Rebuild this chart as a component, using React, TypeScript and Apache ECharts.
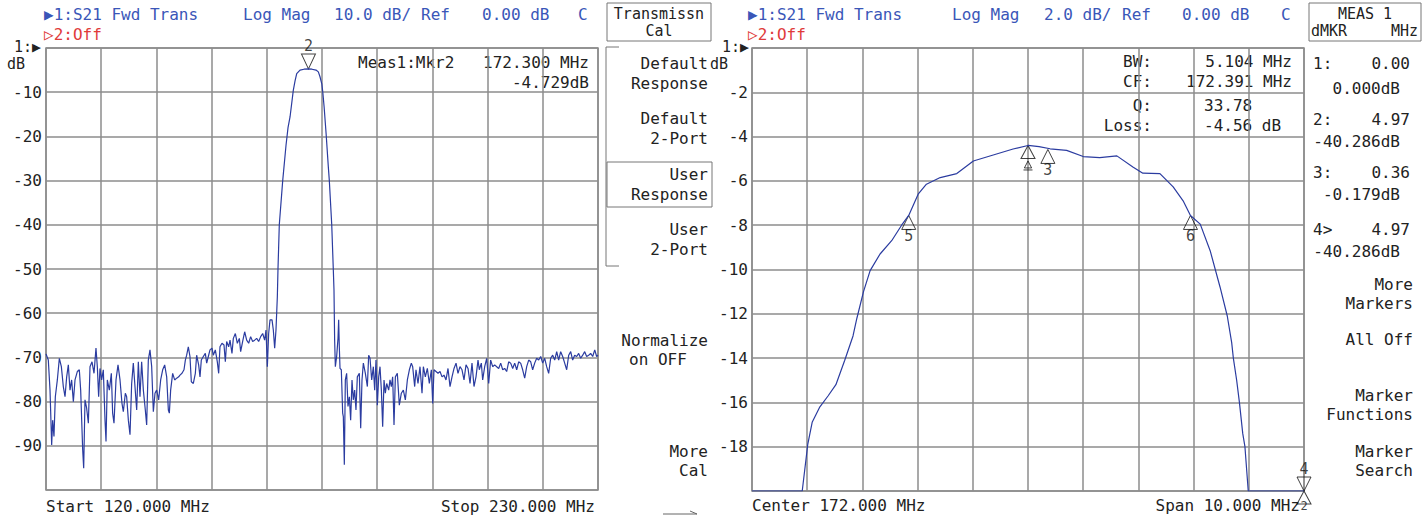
import React, { useEffect, useRef } from "react";
import * as echarts from "echarts";

// ---- data ----
const leftRangeMHz = [120, 230];
const rightRangeMHz = [167, 177];

const leftTraceMHz = [
  120.0, 120.46, 120.8, 121.13, 121.33, 121.59, 121.86, 122.26, 122.66, 123.06, 123.45, 123.79, 124.12, 124.45, 124.78,
  125.11, 125.45, 125.78, 126.24, 126.64, 126.91, 127.31, 127.51, 127.77, 128.1, 128.44, 128.77, 129.17, 129.57, 129.96,
  130.23, 130.49, 130.76, 131.09, 131.42, 131.76, 131.96, 132.22, 132.62, 133.02, 133.28, 133.55, 133.95, 134.35, 134.75,
  135.14, 135.41, 135.81, 136.07, 136.41, 136.74, 137.07, 137.4, 137.73, 138.07, 138.4, 138.73, 139.06, 139.4, 139.79,
  140.06, 140.39, 140.72, 141.06, 141.39, 141.72, 142.05, 142.45, 142.85, 143.25, 143.65, 144.05, 144.38, 144.58, 144.84,
  145.24, 145.64, 146.04, 146.44, 146.7, 147.1, 147.5, 147.77, 148.03, 148.36, 148.69, 148.96, 149.36, 149.76, 150.02,
  150.42, 150.69, 150.95, 151.35, 151.75, 152.02, 152.35, 152.68, 153.08, 153.34, 153.74, 154.14, 154.41, 154.67, 155.07,
  155.47, 155.74, 156.0, 156.4, 156.67, 157.06, 157.33, 157.73, 158.13, 158.53, 158.79, 159.19, 159.59, 159.99, 160.39,
  160.78, 161.18, 161.58, 161.98, 162.38, 162.78, 163.18, 163.57, 163.84, 164.11, 164.37, 164.64, 165.04, 165.3, 165.57,
  165.83, 166.1,
  166.23, 166.49, 167.17, 167.83, 168.23, 168.63, 169.28, 169.62, 169.96, 170.62, 171.41, 172.3, 173.01, 173.81, 174.27,
  174.6, 174.96, 175.16, 175.42, 175.82, 176.26, 176.46, 176.94, 177.25,
  177.39, 177.52, 177.66, 177.92, 178.19, 178.32, 178.45, 178.59, 178.85, 179.12, 179.25, 179.45, 179.65, 179.91, 180.18,
  180.45, 180.71, 180.98, 181.24, 181.51, 181.77, 182.04, 182.44,
  182.71, 182.97, 183.24, 183.64, 184.04, 184.3, 184.57, 184.9, 185.23, 185.5, 185.76, 186.03, 186.3, 186.56, 186.83,
  187.09, 187.36, 187.62, 187.89, 188.29, 188.55, 188.82, 189.08, 189.35, 189.62, 190.01, 190.41, 190.81, 191.21, 191.61,
  192.01, 192.41, 192.8, 193.07, 193.47, 193.73, 194.13, 194.53, 194.93, 195.2, 195.59, 195.99, 196.39, 196.79, 197.06,
  197.32, 197.72, 198.12, 198.52, 198.92, 199.31, 199.71, 200.11, 200.51, 200.91, 201.31, 201.71, 202.1, 202.5, 202.9,
  203.3, 203.7, 204.1, 204.5, 204.89, 205.29, 205.69, 206.09, 206.35, 206.75, 207.02, 207.42, 207.82, 208.22, 208.61,
  209.01, 209.41, 209.81, 210.21, 210.61, 211.01, 211.4, 211.8, 212.2, 212.6, 213.0, 213.4, 213.8, 214.19, 214.59,
  214.99, 215.39, 215.79, 216.19, 216.59, 216.98, 217.38, 217.78, 218.18, 218.58, 218.98, 219.38, 219.77, 220.17, 220.57,
  220.97, 221.37, 221.77, 222.16, 222.56, 222.96, 223.36, 223.76, 224.16, 224.56, 224.95, 225.35, 225.75, 226.15, 226.55,
  226.95, 227.35, 227.74, 228.14, 228.54, 228.94, 229.35, 229.73, 230.0,
];
const leftTraceDb = [
  -69.2, -70.6, -77.4, -89.8, -84.2, -87.9, -78.9, -75.1, -70.2, -72.1, -76.6, -78.9, -74.4, -71.7, -77.4,
  -75.1, -80.0, -75.1, -73.2, -72.8, -77.4, -90.9, -95.1, -79.6, -81.5, -84.9, -72.1, -71.0, -73.6, -67.9,
  -72.1, -78.9, -72.5, -75.1, -72.8, -84.2, -89.0, -75.1, -77.4, -73.6, -82.6, -84.9, -75.1, -71.7, -75.1,
  -80.4, -82.3, -78.1, -78.9, -84.2, -87.5, -75.9, -71.3, -76.6, -81.9, -71.0, -78.9, -71.0, -77.4, -81.9,
  -85.3, -70.6, -68.3, -72.1, -82.3, -78.1, -77.4, -79.6, -75.1, -72.8, -71.7, -74.4, -81.9, -82.6, -77.4,
  -73.6, -75.1, -74.7, -74.4, -74.0, -73.6, -72.8, -70.6, -69.5, -67.6, -69.8, -75.5, -75.9, -73.6, -69.5,
  -71.7, -74.4, -70.6, -69.8, -69.1, -71.3, -69.8, -68.3, -67.9, -69.5, -68.3, -71.0, -73.6, -67.6, -66.8,
  -67.2, -71.0, -66.4, -67.6, -66.1, -69.1, -65.7, -64.6, -66.8, -65.7, -68.7, -66.4, -64.2, -66.1, -66.8,
  -65.3, -66.4, -66.1, -65.7, -66.4, -65.3, -64.6, -66.1, -63.8, -72.1, -64.6, -61.5, -61.5, -63.8, -67.9,
  -63.8, -56.3,
  -50, -40, -30, -22, -18, -15.6, -9.6, -7.5, -5.8, -5.0, -4.8, -4.729, -4.8, -5.0, -5.4,
  -6.5, -8.1, -10, -13.3, -19.4, -26.9, -30, -40, -50,
  -54.8, -66.1, -72.1, -69.8, -65.7, -61.5, -67.6, -72.5, -72.8, -82.6, -83.4, -94.3, -75.1, -73.6, -81.1,
  -78.9, -84.2, -75.1, -79.6, -77.4, -81.9, -74.4, -73.6,
  -86.0, -75.1, -71.3, -73.6, -76.6, -69.5, -70.2, -75.1, -72.1, -77.4, -70.6, -80.8, -74.4, -72.1, -77.4,
  -85.7, -75.1, -78.1, -75.9, -77.4, -75.1, -76.6, -74.4, -85.3, -74.4, -73.6, -80.8, -78.1, -77.4, -79.6,
  -75.1, -72.8, -71.3, -72.1, -76.6, -72.8, -75.9, -72.1, -78.1, -72.1, -74.4, -72.5, -75.9, -72.8, -80.4,
  -72.8, -73.2, -73.6, -73.2, -74.4, -74.0, -75.1, -72.5, -76.6, -74.4, -72.5, -71.3, -73.6, -72.1, -72.8,
  -75.1, -71.7, -72.5, -75.9, -71.3, -76.6, -74.4, -70.6, -72.8, -71.3, -75.1, -72.1, -70.2, -75.9, -70.6,
  -72.1, -71.7, -72.1, -72.5, -71.3, -72.8, -72.5, -73.2, -71.0, -71.3, -72.5, -71.3, -72.8, -71.0, -71.3,
  -72.8, -74.7, -72.1, -70.6, -71.0, -72.8, -71.3, -70.2, -70.6, -69.8, -71.3, -70.2, -72.1, -73.6, -70.2,
  -69.5, -70.6, -68.7, -70.6, -68.7, -69.8, -71.3, -72.8, -69.5, -68.7, -70.6, -69.5, -69.8, -69.1, -70.2,
  -69.5, -68.7, -69.8, -69.5, -69.1, -69.8, -68.3, -69.8, -69.5,
];

const rightTraceMHz = [
  167.0, 167.91, 168.01, 168.09, 168.23, 168.38, 168.52, 168.68, 168.83, 168.9, 169.02, 169.14, 169.32, 169.53, 169.71,
  169.839, 170.01, 170.16, 170.41, 170.71, 171.01, 171.37, 171.73, 172.0, 172.2, 172.4, 172.7, 173.0, 173.3, 173.61,
  173.9, 174.08, 174.39, 174.63, 174.81, 174.943, 175.12, 175.3, 175.48, 175.61, 175.69, 175.72, 175.78, 175.83, 175.89,
  175.93, 175.99, 177.0,
];
const rightTraceDb = [
  -20, -20, -17.9, -16.9, -16.2, -15.7, -15.2, -14.1, -13.0, -12.2, -11.0, -10.05, -9.3, -8.7, -8.0,
  -7.56, -6.6, -6.15, -5.85, -5.67, -5.1, -4.83, -4.56, -4.4, -4.45, -4.55, -4.62, -4.9, -4.95, -4.87,
  -5.37, -5.65, -5.67, -6.27, -6.9, -7.56, -7.95, -9.15, -10.8, -12.1, -13.3, -14.0, -15.0, -16.0, -17.4,
  -18.0, -20, -20,
];

const leftMarkerMHz = [172.3];
const leftMarkerDb = [-4.729];
const rightMarkerNames = ["5", "6", "3"];
const rightMarkerMHz = [169.839, 174.943, 172.36];
const rightMarkerDb = [-7.56, -7.56, -4.58];
const refMarkerMHz = [172.0];
const refMarkerDb = [-4.4];
const edgeMarkerMHz = [177.0];
const edgeMarkerDb = [-20];

// ---- styles ----
const FONT = '"DejaVu Sans Mono", "Liberation Mono", monospace';
const BLUE_TXT = "#3a56b8";
const RED_TXT = "#e03a3a";
const TRACE = "#2b3ca0";
const GRID = "#8c8c8c";
const INK = "#222222";

const DOWN_TRI = "path://M0,0L14,0L7,14Z";
const UP_TRI = "path://M7,0L14,14L0,14Z";

function txt(x: number, y: number, text: string, align = "left", color = INK, size = 16) {
  return {
    type: "text",
    silent: true,
    style: {
      x,
      y,
      text,
      fill: color,
      font: `${size}px ${FONT}`,
      textAlign: align,
      textVerticalAlign: "middle",
    },
  };
}

function rect(x: number, y: number, w: number, h: number) {
  return {
    type: "rect",
    silent: true,
    shape: { x, y, width: w, height: h },
    style: { fill: "none", stroke: "#777", lineWidth: 1 },
  };
}

export default function App() {
  const ref = useRef<HTMLDivElement>(null);

  useEffect(() => {
    if (!ref.current) return;
    const chart = echarts.init(ref.current, undefined, { renderer: "svg" });

    const leftData = leftTraceMHz.map((f, i) => [f, leftTraceDb[i]]);
    const rightData = rightTraceMHz.map((f, i) => [f, rightTraceDb[i]]);

    const markerItem = { color: "rgba(0,0,0,0)", borderColor: "#111", borderWidth: 1 };
    const markerLabel = { color: "#111", fontFamily: FONT, fontSize: 15 };

    const gridAxisCommon = {
      axisLine: { show: false },
      axisTick: { show: false },
      axisLabel: { show: false },
      splitLine: { show: true, lineStyle: { color: GRID, width: 1.5 } },
    };

    const yLabel = {
      show: true,
      color: INK,
      fontFamily: FONT,
      fontSize: 16,
      margin: 4,
    };

    const graphic: any[] = [
      // left header
      txt(44, 14, "▶1:S21 Fwd Trans", "left", BLUE_TXT),
      txt(243, 14, "Log Mag", "left", BLUE_TXT),
      txt(334, 14, "10.0 dB/", "left", BLUE_TXT),
      txt(421, 14, "Ref", "left", BLUE_TXT),
      txt(482, 14, "0.00 dB", "left", BLUE_TXT),
      txt(578, 14, "C", "left", BLUE_TXT),
      txt(44, 34, "▷2:Off", "left", RED_TXT),
      // right header
      txt(748, 14, "▶1:S21 Fwd Trans", "left", BLUE_TXT),
      txt(952, 14, "Log Mag", "left", BLUE_TXT),
      txt(1044, 14, "2.0 dB/", "left", BLUE_TXT),
      txt(1122, 14, "Ref", "left", BLUE_TXT),
      txt(1182, 14, "0.00 dB", "left", BLUE_TXT),
      txt(1281, 14, "C", "left", BLUE_TXT),
      txt(748, 34, "▷2:Off", "left", RED_TXT),
      // axis top markers
      txt(14, 47, "1:▶", "left", INK, 15),
      txt(7, 64, "dB", "left", INK, 15),
      txt(722, 47, "1:▶", "left", INK, 15),
      txt(710, 64, "dB", "left", INK, 15),
      // left annotation
      txt(358, 62, "Meas1:Mkr2", "left"),
      txt(589, 62, "172.300 MHz", "right"),
      txt(589, 82, "-4.729dB", "right"),
      // right annotation
      txt(1152, 61, "BW:", "right"),
      txt(1292, 61, "5.104 MHz", "right"),
      txt(1152, 81, "CF:", "right"),
      txt(1292, 81, "172.391 MHz", "right"),
      txt(1152, 105, "Q:", "right"),
      txt(1204, 105, "33.78", "left"),
      txt(1152, 125, "Loss:", "right"),
      txt(1204, 125, "-4.56 dB", "left"),
      // bottom labels
      txt(46, 506, "Start 120.000 MHz", "left"),
      txt(595, 506, "Stop 230.000 MHz", "right"),
      txt(752, 505, "Center 172.000 MHz", "left"),
      txt(1300, 505, "Span 10.000 MHz", "right"),
      // middle softkeys
      rect(607, 3, 104, 38),
      txt(659, 14, "Transmissn", "center", INK, 15),
      txt(659, 31, "Cal", "center", INK, 15),
      {
        type: "polyline",
        silent: true,
        shape: { points: [[619, 47], [606, 47], [606, 266], [619, 266]] },
        style: { fill: "none", stroke: "#777", lineWidth: 1 },
      },
      txt(708, 63, "Default", "right"),
      txt(708, 83, "Response", "right"),
      txt(708, 118, "Default", "right"),
      txt(708, 138, "2-Port", "right"),
      rect(607, 162, 105, 45),
      txt(708, 174, "User", "right"),
      txt(708, 194, "Response", "right"),
      txt(708, 229, "User", "right"),
      txt(708, 249, "2-Port", "right"),
      txt(708, 340, "Normalize", "right"),
      txt(629, 359, "on OFF", "left"),
      txt(708, 451, "More", "right"),
      txt(708, 470, "Cal", "right"),
      {
        type: "polyline",
        silent: true,
        shape: { points: [[663, 514], [697, 514], [690, 511]] },
        style: { fill: "none", stroke: "#666", lineWidth: 1 },
      },
      // right softkeys
      rect(1309, 3, 112, 38),
      txt(1365, 14, "MEAS 1", "center", INK, 15),
      txt(1311, 31, "dMKR", "left", INK, 15),
      txt(1418, 31, "MHz", "right", INK, 15),
      txt(1313, 63, "1:", "left"),
      txt(1410, 63, "0.00", "right"),
      txt(1400, 88, "0.000dB", "right"),
      txt(1313, 119, "2:", "left"),
      txt(1410, 119, "4.97", "right"),
      txt(1400, 141, "-40.286dB", "right"),
      txt(1313, 172, "3:", "left"),
      txt(1410, 172, "0.36", "right"),
      txt(1400, 194, "-0.179dB", "right"),
      txt(1313, 229, "4>", "left"),
      txt(1410, 229, "4.97", "right"),
      txt(1400, 251, "-40.286dB", "right"),
      txt(1413, 284, "More", "right"),
      txt(1413, 303, "Markers", "right"),
      txt(1413, 339, "All Off", "right"),
      txt(1413, 395, "Marker", "right"),
      txt(1413, 414, "Functions", "right"),
      txt(1413, 451, "Marker", "right"),
      txt(1413, 470, "Search", "right"),
    ];

    const option: any = {
      animation: false,
      backgroundColor: "#ffffff",
      textStyle: { fontFamily: FONT },
      grid: [
        { left: 46, top: 48, width: 552, height: 442, show: true, borderColor: GRID, borderWidth: 1.5, backgroundColor: "transparent" },
        { left: 752, top: 48, width: 552, height: 443, show: true, borderColor: GRID, borderWidth: 1.5, backgroundColor: "transparent" },
      ],
      xAxis: [
        { gridIndex: 0, type: "value", min: leftRangeMHz[0], max: leftRangeMHz[1], show: false },
        { gridIndex: 0, type: "value", min: 0, max: 10, interval: 1, ...gridAxisCommon },
        { gridIndex: 1, type: "value", min: rightRangeMHz[0], max: rightRangeMHz[1], interval: 1, ...gridAxisCommon },
      ],
      yAxis: [
        {
          gridIndex: 0, type: "value", min: -100, max: 0, interval: 10,
          axisLine: { show: false }, axisTick: { show: false },
          splitLine: { show: true, lineStyle: { color: GRID, width: 1.5 } },
          axisLabel: { ...yLabel, formatter: (v: number) => (v === 0 || v === -100 ? "" : String(v)) },
        },
        {
          gridIndex: 1, type: "value", min: -20, max: 0, interval: 2,
          axisLine: { show: false }, axisTick: { show: false },
          splitLine: { show: true, lineStyle: { color: GRID, width: 1.5 } },
          axisLabel: { ...yLabel, formatter: (v: number) => (v === 0 || v === -20 ? "" : String(v)) },
        },
      ],
      series: [
        {
          type: "line", xAxisIndex: 0, yAxisIndex: 0, data: leftData,
          showSymbol: false, silent: true, lineStyle: { color: TRACE, width: 1.2 },
        },
        {
          type: "line", xAxisIndex: 2, yAxisIndex: 1, data: rightData,
          showSymbol: false, silent: true, lineStyle: { color: TRACE, width: 1.2 },
        },
        {
          type: "scatter", xAxisIndex: 0, yAxisIndex: 0, silent: true,
          data: leftMarkerMHz.map((f, i) => [f, leftMarkerDb[i]]),
          symbol: DOWN_TRI, symbolSize: [14, 15], symbolOffset: [0, -7.5],
          itemStyle: markerItem,
          label: { show: true, position: "top", distance: 0, formatter: "2", ...markerLabel },
        },
        {
          type: "scatter", xAxisIndex: 2, yAxisIndex: 1, silent: true,
          data: rightMarkerMHz.map((f, i) => ({ name: rightMarkerNames[i], value: [f, rightMarkerDb[i]] })),
          symbol: UP_TRI, symbolSize: [14, 14], symbolOffset: [0, 7],
          itemStyle: markerItem,
          label: { show: true, position: "bottom", distance: -1, formatter: "{b}", ...markerLabel },
        },
        {
          type: "scatter", xAxisIndex: 2, yAxisIndex: 1, silent: true,
          data: refMarkerMHz.map((f, i) => [f, refMarkerDb[i]]),
          symbol: UP_TRI, symbolSize: [14, 13], symbolOffset: [0, 6.5],
          itemStyle: markerItem,
        },
        {
          type: "scatter", xAxisIndex: 2, yAxisIndex: 1, silent: true,
          data: refMarkerMHz.map((f, i) => [f, refMarkerDb[i]]),
          symbol: "path://M4,0L8,7L0,7ZM-1,9L9,9", symbolSize: [9, 9], symbolOffset: [0, 20],
          itemStyle: markerItem,
        },
        {
          type: "scatter", xAxisIndex: 2, yAxisIndex: 1, silent: true, clip: false,
          data: edgeMarkerMHz.map((f, i) => [f, edgeMarkerDb[i]]),
          symbol: DOWN_TRI, symbolSize: [14, 14], symbolOffset: [0, -7],
          itemStyle: markerItem,
          label: { show: true, position: "top", distance: 0, formatter: "4", ...markerLabel },
        },
        {
          type: "scatter", xAxisIndex: 2, yAxisIndex: 1, silent: true, clip: false,
          data: edgeMarkerMHz.map((f, i) => [f, edgeMarkerDb[i]]),
          symbol: UP_TRI, symbolSize: [14, 13], symbolOffset: [0, 6.5],
          itemStyle: markerItem,
          label: { show: true, position: "bottom", distance: -4, formatter: "2", ...markerLabel, fontSize: 12 },
        },
      ],
      graphic,
    };

    chart.setOption(option);
    return () => chart.dispose();
  }, []);

  return (
    <div
      ref={ref}
      style={{ position: "absolute", left: 0, top: 0, width: 1427, height: 517, background: "#fff" }}
    />
  );
}
